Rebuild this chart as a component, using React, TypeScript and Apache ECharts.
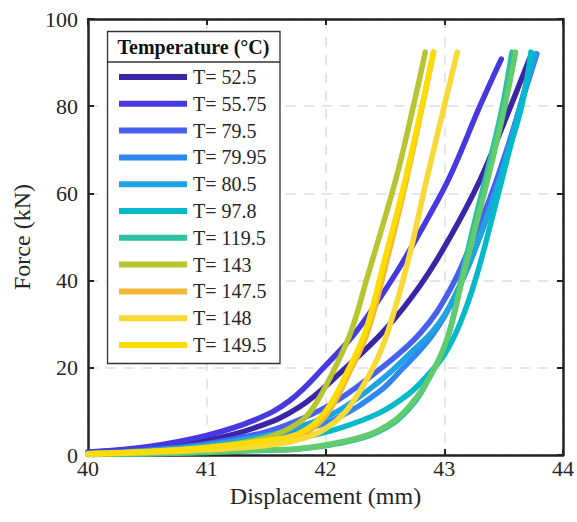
import React, { useEffect, useRef } from "react";
import * as echarts from "echarts";

const labels = [
  "T= 52.5", "T= 55.75", "T= 79.5", "T= 79.95", "T= 80.5", "T= 97.8",
  "T= 119.5", "T= 119.5", "T= 143", "T= 147.5", "T= 148", "T= 149.5",
];
const colors = [
  "#3a25a6", "#4539df", "#4760f0", "#2f87f1", "#1fa3e3", "#03b9ca",
  "#2dc29f", "#62cb6d", "#b7c530", "#f4b736", "#f9d935", "#fddc02",
];

const c52_5 = [[40, 0.6], [40.5, 1.6], [41, 3.4], [41.4, 6.2], [41.78, 11], [42.15, 19.5], [42.5, 28.7], [42.8, 39], [43.05, 50], [43.3, 63], [43.5, 76], [43.72, 91]];
const c55_75 = [[40, 0.7], [40.5, 1.9], [41, 4.5], [41.4, 8], [41.7, 12.5], [42.0, 20.5], [42.27, 28.7], [42.6, 42], [42.87, 54.7], [43.05, 64], [43.3, 80], [43.48, 90.8]];
const c79_5 = [[40, 0.4], [40.5, 1.1], [41, 2.6], [41.5, 5.3], [41.8, 8.3], [42.1, 12.5], [42.45, 19.5], [42.8, 28], [43.05, 38], [43.25, 50], [43.4, 60], [43.55, 72], [43.66, 82], [43.75, 91.5]];
const c79_95 = [[40, 0.3], [40.5, 0.9], [41, 2], [41.5, 3.8], [41.78, 5.5], [42.1, 8.5], [42.45, 14.5], [42.62, 19], [42.9, 27.5], [43.1, 37], [43.3, 50], [43.45, 62], [43.62, 78], [43.78, 92]];
const c80_5 = [[40, 0.3], [40.5, 1], [41, 2.3], [41.5, 4.5], [41.78, 6.5], [42.1, 10], [42.45, 16.8], [42.7, 23], [42.95, 30], [43.15, 40], [43.35, 54], [43.5, 66], [43.64, 80], [43.76, 92]];
const c97_8 = [[40, 0.2], [40.5, 0.6], [41, 1.3], [41.5, 2.6], [41.78, 3.9], [42.1, 6], [42.45, 9.6], [42.7, 14], [42.85, 18], [43.0, 23], [43.13, 30], [43.26, 40], [43.4, 54], [43.55, 70], [43.66, 81], [43.73, 92.4]];
const c119_5a = [[40, 0.1], [40.5, 0.3], [41, 0.6], [41.5, 1.1], [41.78, 1.4], [42.1, 2.6], [42.45, 5.4], [42.7, 10.5], [42.9, 19], [43.03, 27], [43.14, 40], [43.26, 54], [43.38, 67], [43.49, 80], [43.57, 92.4]];
const c119_5b = [[40, 0.1], [40.5, 0.3], [41, 0.7], [41.5, 1.2], [41.78, 1.5], [42.1, 2.8], [42.45, 5.7], [42.7, 11], [42.92, 20], [43.04, 28], [43.15, 40], [43.28, 54], [43.4, 67], [43.51, 80], [43.6, 92.4]];
const c143 = [[40, 0.3], [40.5, 0.8], [41, 1.8], [41.5, 4], [41.78, 7.5], [41.9, 11], [42.08, 20], [42.22, 28.7], [42.35, 40.6], [42.59, 63], [42.74, 80], [42.84, 92.4]];
const c147_5 = [[40, 0.3], [40.5, 0.7], [41, 1.5], [41.5, 3], [41.78, 4.5], [42.0, 9], [42.22, 20], [42.36, 28.7], [42.52, 45], [42.68, 63], [42.91, 92.4]];
const c148 = [[40, 0.2], [40.5, 0.6], [41, 1.2], [41.5, 2.2], [41.86, 4.2], [42.05, 7], [42.2, 11], [42.4, 20], [42.53, 28.7], [42.7, 45], [42.85, 63], [43.11, 92.4]];
const c149_5 = [[40, 0.3], [40.5, 0.8], [41, 1.7], [41.5, 3.3], [41.78, 5], [42.0, 10], [42.2, 20], [42.34, 28.7], [42.5, 45], [42.67, 63], [42.91, 92.4]];

const curves = [c52_5, c55_75, c79_5, c79_95, c80_5, c97_8, c119_5a, c119_5b, c143, c147_5, c148, c149_5];

const X_MIN = 40, X_MAX = 44, X_STEP = 1;
const Y_MIN = 0, Y_MAX = 100, Y_STEP = 20;

const FONT = "serif";
const INK = "#262626";

export default function App() {
  const ref = useRef<HTMLDivElement>(null);
  useEffect(() => {
    if (!ref.current) return;
    const chart = echarts.init(ref.current, undefined, { renderer: "svg" });
    const axisCommon = {
      type: "value" as const,
      axisLine: { show: true, onZero: false, lineStyle: { color: "#222", width: 2.5 } },
      axisTick: { show: true, inside: true, length: 6, lineStyle: { color: "#222", width: 2 } },
    };
    chart.setOption({
      animation: false,
      backgroundColor: "#fff",
      textStyle: { fontFamily: FONT },
      grid: { left: 88, top: 19, right: 12, bottom: 67, containLabel: false },
      xAxis: [
        {
          ...axisCommon,
          min: X_MIN, max: X_MAX, interval: X_STEP,
          position: "bottom",
          name: "Displacement (mm)",
          nameLocation: "middle",
          nameGap: 17,
          nameTextStyle: { fontFamily: FONT, fontSize: 24, color: INK },
          axisLabel: { fontFamily: FONT, fontSize: 22, color: INK, margin: 2 },
          splitLine: { show: true, lineStyle: { color: "#dedede", width: 1.5, type: [10, 8] } },
        },
        {
          ...axisCommon,
          min: X_MIN, max: X_MAX, interval: X_STEP,
          position: "top",
          axisLabel: { show: false },
          splitLine: { show: false },
        },
      ],
      yAxis: [
        {
          ...axisCommon,
          min: Y_MIN, max: Y_MAX, interval: Y_STEP,
          position: "left",
          name: "Force (kN)",
          nameLocation: "middle",
          nameGap: 43,
          nameTextStyle: { fontFamily: FONT, fontSize: 24, color: INK },
          axisLabel: { fontFamily: FONT, fontSize: 22, color: INK, margin: 10 },
          splitLine: { show: true, lineStyle: { color: "#dedede", width: 1.5, type: [10, 8] } },
        },
        {
          ...axisCommon,
          min: Y_MIN, max: Y_MAX, interval: Y_STEP,
          position: "right",
          axisLabel: { show: false },
          splitLine: { show: false },
        },
      ],
      legend: {
        orient: "vertical",
        left: 119,
        top: 67,
        padding: 0,
        itemWidth: 68,
        itemHeight: 6,
        itemGap: 6.8,
        icon: "rect",
        selectedMode: false,
        textStyle: { fontFamily: FONT, fontSize: 20, color: INK, lineHeight: 20, padding: [0, 0, 0, 1] },
        data: labels.map((n, i) => ({ name: n, itemStyle: { color: colors[i] } })),
        z: 6,
      },
      graphic: [
        {
          type: "rect",
          z: 5,
          shape: { x: 107.5, y: 31.5, width: 172.5, height: 332 },
          style: { fill: "#fff", stroke: "#333", lineWidth: 1.3 },
        },
        {
          type: "line",
          z: 5,
          shape: { x1: 107.5, y1: 62, x2: 280, y2: 62 },
          style: { stroke: "#333", lineWidth: 1.3 },
        },
        {
          type: "text",
          z: 6,
          x: 193.5,
          y: 46.5,
          style: {
            text: "Temperature (°C)",
            fontFamily: FONT,
            fontSize: 20,
            fontWeight: "bold",
            fill: "#111",
            align: "center",
            verticalAlign: "middle",
          },
        },
      ],
      series: curves.map((d, i) => ({
        name: labels[i],
        type: "line",
        data: d,
        showSymbol: false,
        smooth: 0.4,
        color: colors[i],
        lineStyle: { color: colors[i], width: 5.5, cap: "round", join: "round" },
        z: 2,
      })),
    });
    return () => chart.dispose();
  }, []);
  return <div ref={ref} style={{ position: "fixed", left: 0, top: 0, width: 577, height: 522 }} />;
}
